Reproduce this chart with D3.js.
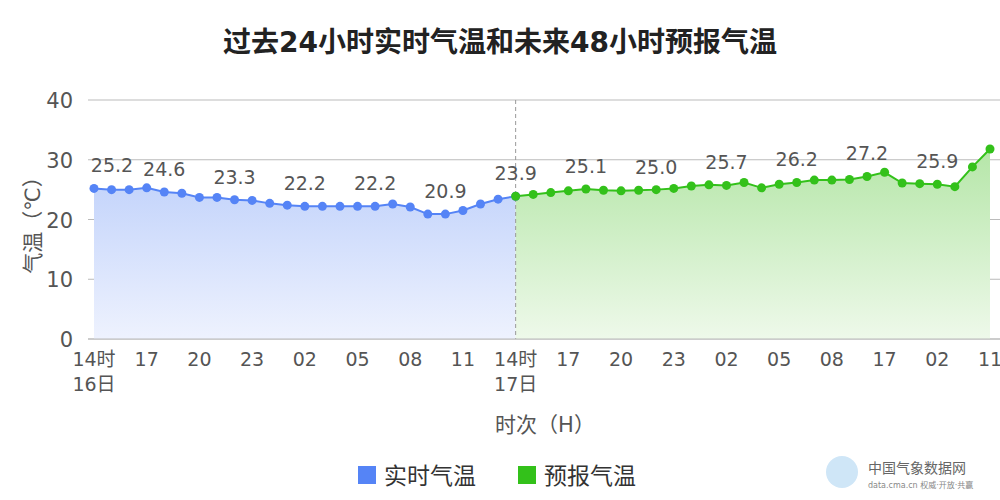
<!DOCTYPE html><html><head><meta charset="utf-8"><script src="https://cdn.jsdelivr.net/npm/d3@7"></script>
<style>body{margin:0;background:#fff}text{font-family:"DejaVu Sans","Noto Sans CJK SC",sans-serif}</style></head><body>
<svg id="c" width="1000" height="500"></svg>
<script>
const xLabels=["14时\n16日","","","17","","","20","","","23","","","02","","","05","","","08","","","11","","","14时\n17日","","","17","","","20","","","23","","","02","","","05","","","08","","","17","","","02","","","11"];
const observed=[25.2,25.0,25.0,25.3,24.6,24.4,23.7,23.7,23.3,23.2,22.7,22.4,22.2,22.2,22.2,22.2,22.2,22.6,22.1,20.9,20.9,21.5,22.6,23.4,23.9];
const forecast=[23.9,24.2,24.5,24.8,25.1,24.9,24.8,24.9,25.0,25.2,25.6,25.8,25.7,26.2,25.3,25.9,26.2,26.6,26.6,26.7,27.2,27.9,26.1,26.0,25.9,25.5,28.8,31.8];
const yTicks=[0,10,20,30,40];
const svg=d3.select("#c");
const x=d3.scaleLinear().domain([0,51]).range([94,990]);
const y=d3.scaleLinear().domain([0,40]).range([339,100]);
const defs=svg.append("defs");
function grad(id,c1,c2){const g=defs.append("linearGradient").attr("id",id).attr("x1",0).attr("x2",0).attr("y1",0).attr("y2",1);
g.append("stop").attr("offset","0%").attr("stop-color",c1);g.append("stop").attr("offset","100%").attr("stop-color",c2);}
grad("gb","#c5d5fb","#eef2fe");grad("gg","#b5e6a8","#eef9ea");
svg.append("text").attr("x",500).attr("y",52).attr("text-anchor","middle").attr("font-size",28).attr("font-weight","bold").attr("fill","#222").text("过去24小时实时气温和未来48小时预报气温");
yTicks.forEach(t=>{svg.append("line").attr("x1",88).attr("x2",1000).attr("y1",y(t)).attr("y2",y(t)).attr("stroke","#bbb");
svg.append("text").attr("x",73).attr("y",y(t)+8).attr("text-anchor","end").attr("font-size",21).attr("fill","#555").text(t);});
const ser=[{d:observed,off:0,c:"#5584f6",g:"gb"},{d:forecast,off:24,c:"#33c11a",g:"gg"}];
ser.forEach(s=>{
 const area=d3.area().x((d,i)=>x(i+s.off)).y0(y(0)).y1(d=>y(d));
 const line=d3.line().x((d,i)=>x(i+s.off)).y(d=>y(d));
 svg.append("path").attr("d",area(s.d)).attr("fill","url(#"+s.g+")");
 svg.append("path").attr("d",line(s.d)).attr("fill","none").attr("stroke",s.c).attr("stroke-width",2);
});
svg.append("line").attr("x1",x(24)).attr("x2",x(24)).attr("y1",100).attr("y2",339).attr("stroke","#999").attr("stroke-dasharray","4,3");
ser.forEach(s=>{
 svg.selectAll(null).data(s.d).enter().append("circle").attr("cx",(d,i)=>x(i+s.off)).attr("cy",d=>y(d)).attr("r",4.5).attr("fill",s.c);
 s.d.forEach((d,i)=>{const k=i+s.off;if(k%4!==0)return;if(s.off===24&&k===24)return;
  svg.append("text").attr("x",x(k)+(k===0?18:0)).attr("y",y(d)-16).attr("text-anchor","middle").attr("font-size",19).attr("fill","#555").text(d.toFixed(1));});
});
svg.append("line").attr("x1",88).attr("x2",1000).attr("y1",339).attr("y2",339).attr("stroke","#bbb");
xLabels.forEach((l,i)=>{if(!l)return;const p=l.split("\n");
 p.forEach((s,j)=>svg.append("text").attr("x",x(i)).attr("y",366+j*25).attr("text-anchor","middle").attr("font-size",19).attr("fill","#555").text(s));});
svg.append("text").attr("transform","translate(40,220) rotate(-90)").attr("text-anchor","middle").attr("font-size",21).attr("fill","#555").text("气温（℃）");
svg.append("text").attr("x",545).attr("y",432).attr("text-anchor","middle").attr("font-size",21).attr("fill","#555").text("时次（H）");
[["实时气温","#5584f6",358],["预报气温","#33c11a",518]].forEach(([t,c,px])=>{
 svg.append("rect").attr("x",px).attr("y",466).attr("width",18).attr("height",18).attr("fill",c);
 svg.append("text").attr("x",px+26).attr("y",484).attr("font-size",23).attr("fill","#333").text(t);});
svg.append("circle").attr("cx",842).attr("cy",472).attr("r",16).attr("fill","#cfe6f7");
svg.append("text").attr("x",868).attr("y",473).attr("font-size",14).attr("fill","#666").text("中国气象数据网");
svg.append("text").attr("x",868).attr("y",488).attr("font-size",8).attr("fill","#888").text("data.cma.cn 权威·开放·共赢");
</script></body></html>
